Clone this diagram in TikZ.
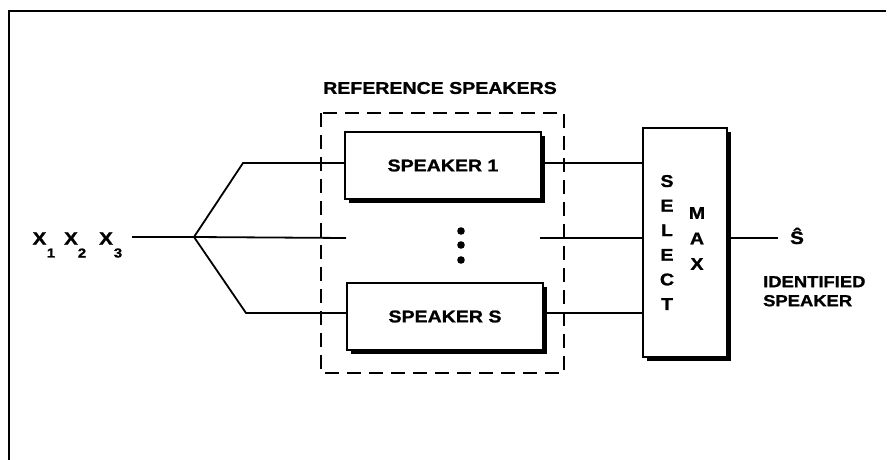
\documentclass[tikz,border=0pt]{standalone}
\usepackage{fontspec}
\setmainfont{Liberation Sans}
\newfontfamily\widesans[FakeStretch=1.15,FakeBold=1.2]{Liberation Sans Bold}
\usetikzlibrary{shadows}
\begin{document}
\begin{tikzpicture}[x=1pt,y=-1pt,
  lbl/.style={font=\widesans\fontsize{17}{17}\selectfont, inner sep=0pt},
  blk/.style={draw, line width=2.2pt, fill=white, inner sep=0pt,
    drop shadow={fill=black, opacity=1, shadow xshift=3.5pt, shadow yshift=-3.5pt},
    font=\widesans\fontsize{17}{17}\selectfont},
  wire/.style={line width=1.8pt},
  dbox/.style={line width=2pt, dash pattern=on 14pt off 8pt}]
\useasboundingbox (0,0) rectangle (889,460);
% frame
\draw[line width=2pt] (9,460) -- (9,11) -- (886,11);
% dashed box
\draw[dbox] (321,113) rectangle (564,373);
\node[lbl] (ref) at (440,88) {REFERENCE SPEAKERS};
% blocks
\node[blk, minimum width=196pt, minimum height=67pt] (s1) at (443,165.5) {SPEAKER 1};
\node[blk, minimum width=196pt, minimum height=67pt] (ss) at (445,316.5) {SPEAKER S};
\node[blk, minimum width=84pt, minimum height=229pt] (sel) at (685,242.5) {};
\node[lbl, align=center, font=\widesans\fontsize{17}{24.6}\selectfont] (selt) at (667,242.5) {S\\E\\L\\E\\C\\T};
\node[lbl, align=center, font=\widesans\fontsize{17}{25.5}\selectfont] (maxt) at (697,238.5) {M\\A\\X};
% dots
\fill (461,231) circle (3.8pt) coordinate (d1);
\fill (461,245) circle (3.8pt) coordinate (d2);
\fill (461,260) circle (3.8pt) coordinate (d3);
% input labels
\node[lbl, font=\widesans\fontsize{18}{18}\selectfont] (x1) at (39.5,238.5) {X};
\node[lbl, font=\widesans\fontsize{13}{13}\selectfont] (x1s) at (51,253) {1};
\node[lbl, font=\widesans\fontsize{18}{18}\selectfont] (x2) at (71,238.5) {X};
\node[lbl, font=\widesans\fontsize{13}{13}\selectfont] (x2s) at (82,253) {2};
\node[lbl, font=\widesans\fontsize{18}{18}\selectfont] (x3) at (106,238.5) {X};
\node[lbl, font=\widesans\fontsize{13}{13}\selectfont] (x3s) at (118,253) {3};
% coordinates
\coordinate (in) at (132,237);
\coordinate (split) at (194,237);
\coordinate (bt) at (243,163);
\coordinate (bb) at (246,313);
\coordinate (m1) at (346,238);
\coordinate (m2) at (540,238);
\coordinate (out) at (778,238);
% wires
\draw[wire] (in) -- (split);
\draw[wire] (split) -- (bt) -- (s1.west |- bt);
\draw[wire] (split) -- (bb) -- (ss.west |- bb);
\draw[wire] (split) -- (m1);
\draw[wire] (m2) -- (sel.west |- m2);
\draw[wire] (s1.east |- 0,163) -- (sel.west |- 0,163);
\draw[wire] (ss.east |- 0,313) -- (sel.west |- 0,313);
\draw[wire] (sel.east |- out) -- (out);
% output labels
\node[lbl, font=\widesans\fontsize{18}{18}\selectfont] (shat) at (797,236) {Ŝ};
\node[lbl, align=left, anchor=north west, font=\widesans\fontsize{16}{19}\selectfont] (idsp) at (763,276) {IDENTIFIED\\SPEAKER};
\end{tikzpicture}
\end{document}
